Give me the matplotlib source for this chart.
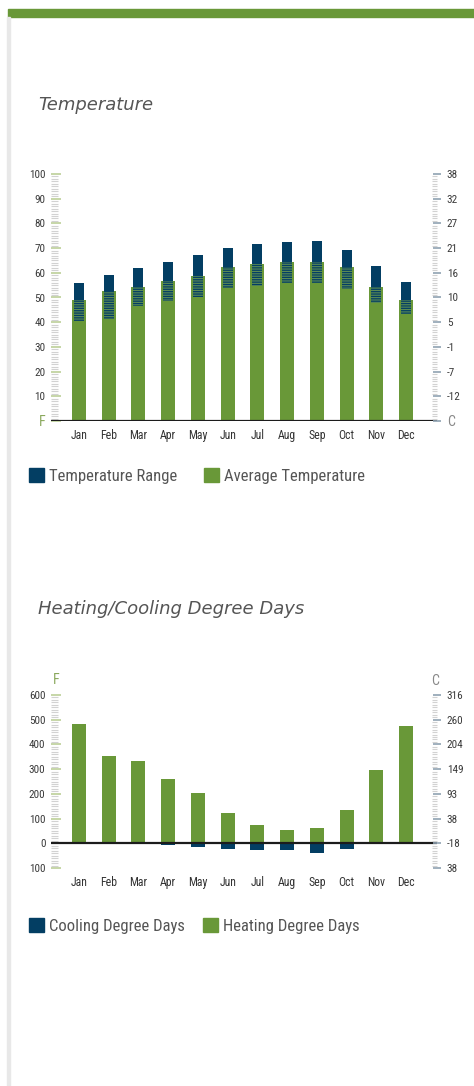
import numpy as np
import matplotlib
matplotlib.use('Agg')
import matplotlib.pyplot as plt
from matplotlib.patches import Patch, Rectangle
from matplotlib.ticker import MultipleLocator

months = ['Jan', 'Feb', 'Mar', 'Apr', 'May', 'Jun', 'Jul', 'Aug', 'Sep', 'Oct', 'Nov', 'Dec']
# temperature, F
temp_avg = [49, 52.6, 54.3, 56.7, 58.7, 62.3, 63.6, 64.4, 64.4, 62.3, 54.3, 49]
temp_high = [55.9, 59.1, 61.9, 64.4, 67.2, 70.0, 71.7, 72.5, 72.9, 69.2, 62.8, 56.3]
temp_low = [40.5, 41.3, 46.6, 48.6, 50.2, 53.8, 54.7, 55.9, 55.9, 53.4, 47.8, 43.3]
temp_f_ticks = [0, 10, 20, 30, 40, 50, 60, 70, 80, 90, 100]
temp_f_labels = ['F', '10', '20', '30', '40', '50', '60', '70', '80', '90', '100']
temp_c_labels = ['C', '-12', '-7', '-1', '5', '10', '16', '21', '27', '32', '38']
# degree days
heating = [482, 353, 332, 259, 203, 122, 73, 53, 61, 134, 296, 474]
cooling = [0, 0, 0, 7, 16, 24, 28, 28, 40, 22, 0, 0]
dd_f_ticks = [-100, 0, 100, 200, 300, 400, 500, 600]
dd_f_labels = ['100', '0', '100', '200', '300', '400', '500', '600']
dd_c_labels = ['38', '-18', '38', '93', '149', '204', '260', '316']

GREEN = '#699838'
BLUE = '#033e63'
TXT = '#3a3a3a'
NARROW = ['Roboto Condensed', 'Liberation Sans Narrow', 'Roboto', 'DejaVu Sans']
plt.rcParams['font.family'] = NARROW
plt.rcParams['hatch.linewidth'] = 0.9

W, H = 474, 1086
fig = plt.figure(figsize=(W / 100, H / 100), dpi=100)

# page decoration: green band on top, grey rule on the left
fig.patches.append(Rectangle((8 / W, 1 - 17 / H), 1, 8 / H, transform=fig.transFigure,
                             color=GREEN, zorder=0))
fig.patches.append(Rectangle((7 / W, 0), 3 / W, 1 - 17 / H, transform=fig.transFigure,
                             color='#e8e8e8', zorder=0))

x = np.arange(len(months))


def make_axes(top_px, bottom_px):
    ax = fig.add_axes([51 / W, 1 - bottom_px / H, 386 / W, (bottom_px - top_px) / H])
    ax.set_xlim(-0.94, 12.04)
    for s in ax.spines.values():
        s.set_visible(False)
    ax2 = ax.twinx()
    for s in ax2.spines.values():
        s.set_visible(False)
    return ax, ax2


def style_ticks(ax, ax2, ylim, ticks, left_labels, right_labels, minor):
    for a in (ax, ax2):
        a.set_ylim(*ylim)
        a.set_yticks(ticks)
        a.yaxis.set_minor_locator(MultipleLocator(minor))
    ax.set_yticklabels(left_labels, fontsize=8, color=TXT)
    ax2.set_yticklabels(right_labels, fontsize=8, color=TXT)
    ax.tick_params(axis='y', which='major', direction='in', length=7, width=1.2,
                   color='#bccf98', pad=4)
    ax.tick_params(axis='y', which='minor', direction='in', length=5, width=0.8,
                   color='#d2d2d2')
    ax2.tick_params(axis='y', which='major', direction='inout', length=6, width=1.2,
                    color='#8fa2b2', pad=4)
    ax2.tick_params(axis='y', which='minor', direction='in', length=3.5, width=0.8,
                    color='#d2d2d2')
    ax.set_xticks(x)
    ax.set_xticklabels(months, fontsize=8.5, color='#333333')
    ax.tick_params(axis='x', length=0, pad=6)
    ax.axhline(0, color='#1c1c1c', lw=1.6, zorder=5)


TITLE_FONT = ['DejaVu Sans']

# ---------------- Temperature ----------------
fig.text(38 / W, 1 - 105 / H, 'Temperature', fontsize=13, style='italic', color='#555555',
         va='center', family=TITLE_FONT)
ax, ax2 = make_axes(174, 421)
low = np.array(temp_low)
avg = np.array(temp_avg)
high = np.array(temp_high)
ax.bar(x, avg, width=0.47, color=GREEN, zorder=2)
ax.bar(x, high - avg, bottom=avg, width=0.34, color=BLUE, zorder=3)
ax.bar(x, avg - low, bottom=low, width=0.34, facecolor='#5a8a55', edgecolor=BLUE,
       hatch='-------', lw=0, zorder=3)
style_ticks(ax, ax2, (0, 100), temp_f_ticks, temp_f_labels, temp_c_labels, 1)
ax.get_yticklabels()[0].set_color('#8aa85c')
ax.get_yticklabels()[0].set_fontsize(10)
ax2.get_yticklabels()[0].set_fontsize(10)
ax2.get_yticklabels()[0].set_color('#888888')

LEG_SIZE = 12
fig.legend(handles=[Patch(color=BLUE, label='Temperature Range'),
                    Patch(color=GREEN, label='Average Temperature')],
           loc='center left', bbox_to_anchor=(29 / W, 1 - 476 / H), ncol=2, frameon=False,
           fontsize=LEG_SIZE, handlelength=0.9, handleheight=0.9, handletextpad=0.3,
           columnspacing=1.6, borderpad=0, borderaxespad=0, labelcolor='#555555')

# ---------------- Degree days ----------------
fig.text(38 / W, 1 - 609 / H, 'Heating/Cooling Degree Days', fontsize=13, style='italic',
         color='#555555', va='center', family=TITLE_FONT)
bx, bx2 = make_axes(695, 868)
bx.bar(x, heating, width=0.47, color=GREEN, zorder=2)
bx.bar(x, -np.array(cooling), width=0.47, color=BLUE, zorder=2)
style_ticks(bx, bx2, (-100, 600), dd_f_ticks, dd_f_labels, dd_c_labels, 10)
bx.annotate('F', (0, 1), xycoords='axes fraction', xytext=(5, 15), textcoords='offset pixels',
            ha='center', va='center', fontsize=10, color='#8aa85c')
bx.annotate('C', (1, 1), xycoords='axes fraction', xytext=(-2, 14), textcoords='offset pixels',
            ha='center', va='center', fontsize=10, color='#888888')

fig.legend(handles=[Patch(color=BLUE, label='Cooling Degree Days'),
                    Patch(color=GREEN, label='Heating Degree Days')],
           loc='center left', bbox_to_anchor=(29 / W, 1 - 926 / H), ncol=2, frameon=False,
           fontsize=LEG_SIZE, handlelength=0.9, handleheight=0.9, handletextpad=0.3,
           columnspacing=1.1, borderpad=0, borderaxespad=0, labelcolor='#555555')

fig.savefig('out.png', dpi=100)
